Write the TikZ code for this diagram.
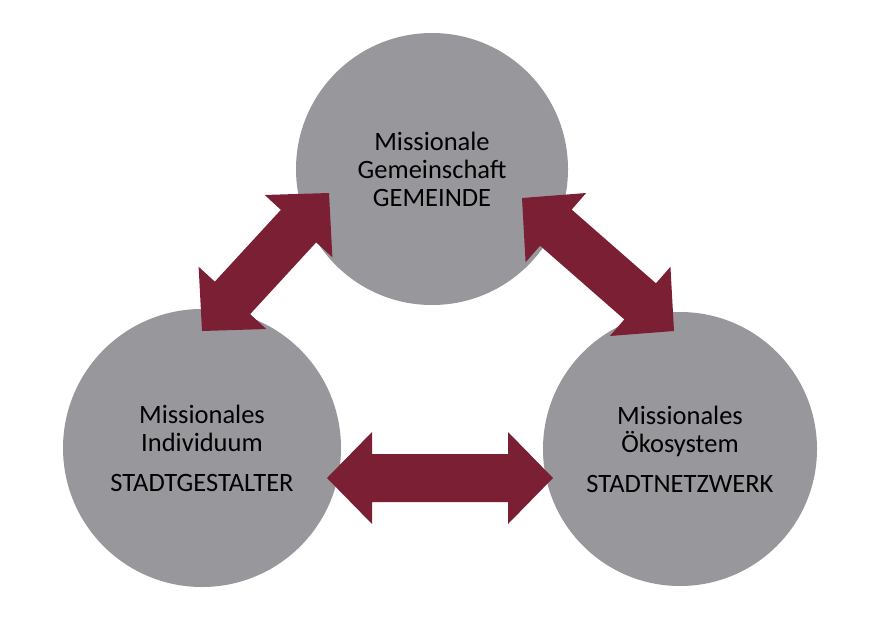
\documentclass[tikz,border=0pt]{standalone}
\usepackage{fontspec}
\setmainfont{Carlito}
\usetikzlibrary{calc}
\definecolor{circgrey}{RGB}{152,151,156}
\definecolor{arrowred}{RGB}{123,31,53}
\tikzset{
  bubble/.style={circle, fill=circgrey, draw=none, inner sep=0pt, align=center,
    font=\fontsize{26.5}{28}\selectfont, text=black},
  arrowfill/.style={fill=arrowred, draw=none},
}
\newcommand\blockarrow[3]{% #1 prefix, #2 start, #3 end
  \coordinate (#1ha) at ($(#2)!45pt!(#3)$);
  \coordinate (#1hb) at ($(#3)!45pt!(#2)$);
  \fill[arrowfill] (#2) -- ($(#1ha)!46pt!90:(#3)$) -- ($(#1ha)!24pt!90:(#3)$)
    -- ($(#1hb)!24pt!-90:(#2)$) -- ($(#1hb)!46pt!-90:(#2)$) -- (#3)
    -- ($(#1hb)!46pt!90:(#2)$) -- ($(#1hb)!24pt!90:(#2)$)
    -- ($(#1ha)!24pt!-90:(#3)$) -- ($(#1ha)!46pt!-90:(#3)$) -- cycle;
}
\begin{document}
\begin{tikzpicture}[x=1pt, y=-1pt]
  \fill[white] (0,0) rectangle (890,635);
  \useasboundingbox (0,0) rectangle (890,635);
  % circles
  \node[bubble, minimum size=272pt] (top) at (432,169)
    {Missionale\\Gemeinschaft\\GEMEINDE};
  \node[bubble, minimum size=278pt] (left) at (202,448)
    {Missionales\\Individuum\\[12pt]STADTGESTALTER};
  \node[bubble, minimum size=274pt] (right) at (680,449)
    {Missionales\\Ökosystem\\[12pt]STADTNETZWERK};
  % arrow end points
  \coordinate (la) at (202,331);
  \coordinate (lb) at (329,193);
  \coordinate (ra) at (522,198);
  \coordinate (rb) at (674,331);
  \coordinate (ha) at (327,478);
  \coordinate (hb) at (553,478);
  % arrows
  \blockarrow{l}{la}{lb}
  \blockarrow{r}{ra}{rb}
  \blockarrow{h}{ha}{hb}
\end{tikzpicture}
\end{document}
